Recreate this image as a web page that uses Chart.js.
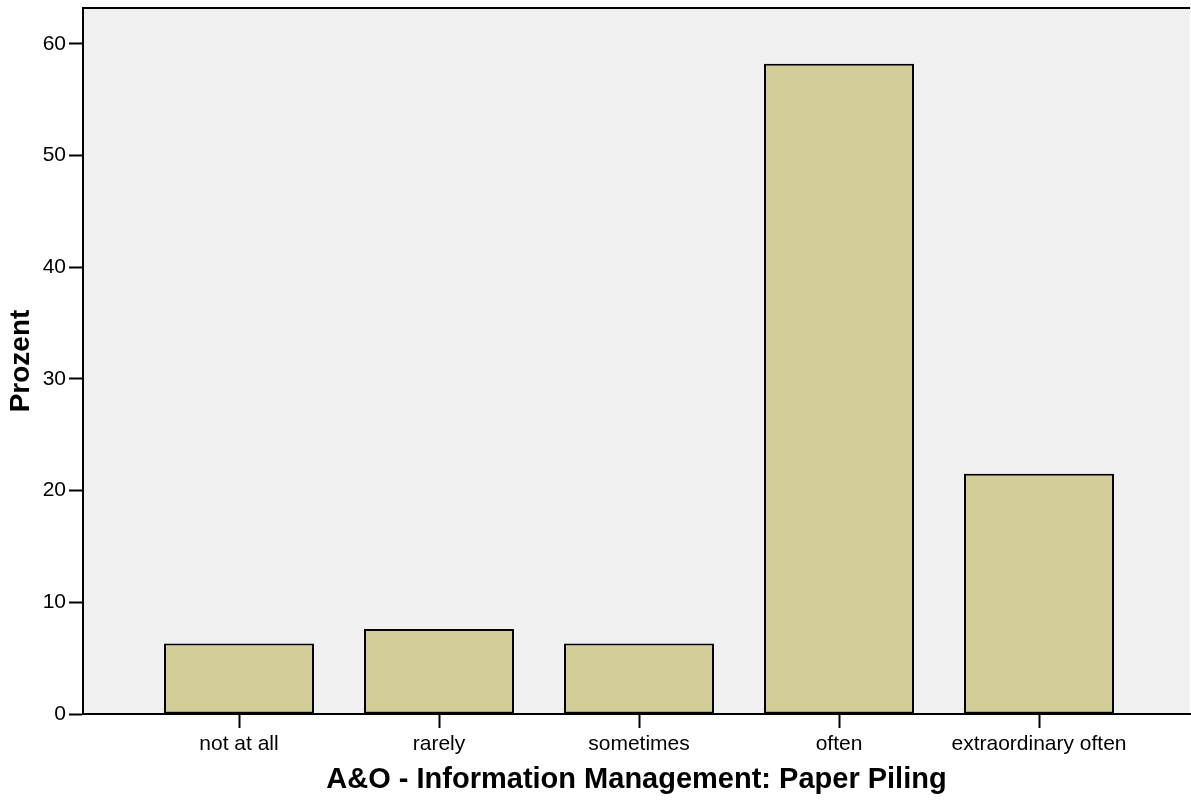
<!DOCTYPE html>
<html>
<head>
<meta charset="utf-8">
<script src="https://cdn.jsdelivr.net/npm/chart.js@4/dist/chart.umd.min.js"></script>
<style>
  html, body { margin: 0; padding: 0; background: #fff; }
  #wrap { width: 1191px; height: 800px; position: relative; }
</style>
</head>
<body>
<div id="wrap"><canvas id="chart"></canvas></div>
<script>
// ----------------------------
// DATA
// ----------------------------
const categories = ['not at all', 'rarely', 'sometimes', 'often', 'extraordinary often'];
const percents = [6.3, 7.6, 6.3, 58.2, 21.5];
const yTicks = [0, 10, 20, 30, 40, 50, 60];
const yTitle = 'Prozent';
const xTitle = 'A&O - Information Management: Paper Piling';

const FONT = '"Liberation Sans", Arial, Helvetica, sans-serif';

// ----------------------------
// PLOT BACKGROUND + TOP FRAME
// ----------------------------
const plotFrame = {
  id: 'plotFrame',
  beforeDraw(chart) {
    const { ctx, chartArea: a } = chart;
    ctx.save();
    ctx.fillStyle = '#f0f0f0';
    ctx.fillRect(a.left, a.top, a.right - a.left, a.bottom - a.top);
    ctx.restore();
  },
  afterDraw(chart) {
    const { ctx, chartArea: a } = chart;
    ctx.save();
    ctx.strokeStyle = '#000';
    ctx.lineWidth = 2;
    ctx.beginPath();
    ctx.moveTo(a.left, a.top);
    ctx.lineTo(a.right, a.top);
    ctx.stroke();
    ctx.restore();
  }
};

// ----------------------------
// CHART
// ----------------------------
const ctx = document.getElementById('chart').getContext('2d');

new Chart(ctx, {
  type: 'bar',
  data: {
    datasets: [{
      data: percents.map((v, i) => ({ x: i, y: v })),
      backgroundColor: '#d3ce97',
      borderColor: '#000',
      borderWidth: 2,
      borderSkipped: false,
      categoryPercentage: 1,
      barPercentage: 0.75
    }]
  },
  options: {
    responsive: true,
    maintainAspectRatio: false,
    animation: false,
    layout: { padding: { top: 8, right: 1, left: 0, bottom: 0 } },
    plugins: {
      legend: { display: false },
      tooltip: { enabled: false }
    },
    scales: {
      x: {
        type: 'linear',
        offset: false,
        min: -0.78,
        max: 4.755,
        afterBuildTicks: (scale) => {
          scale.ticks = categories.map((c, i) => ({ value: i }));
        },
        afterFit: (scale) => {
          scale.height = 86;
          scale.paddingLeft = 0;
          scale.paddingRight = 0;
        },
        ticks: {
          autoSkip: false,
          maxRotation: 0,
          color: '#000',
          padding: 4,
          font: { family: FONT, size: 21 },
          callback: (v) => categories[v]
        },
        grid: {
          offset: false,
          drawOnChartArea: false,
          tickLength: 14,
          tickColor: '#000',
          tickWidth: 2
        },
        border: { color: '#000', width: 2 },
        title: {
          display: true,
          text: xTitle,
          color: '#000',
          padding: { top: 0, bottom: 3 },
          font: { family: FONT, size: 29, weight: 'bold' }
        }
      },
      y: {
        min: 0,
        max: 63.2,
        afterBuildTicks: (scale) => {
          scale.ticks = yTicks.map(v => ({ value: v }));
        },
        afterFit: (scale) => {
          scale.width = 83;
          scale.paddingTop = 0;
          scale.paddingBottom = 0;
        },
        ticks: {
          color: '#000',
          padding: 3,
          font: { family: FONT, size: 21 }
        },
        grid: {
          drawOnChartArea: false,
          tickLength: 14,
          tickColor: '#000',
          tickWidth: 2
        },
        border: { color: '#000', width: 2 },
        title: {
          display: true,
          text: yTitle,
          color: '#000',
          padding: { top: 4, bottom: 0 },
          font: { family: FONT, size: 28, weight: 'bold' }
        }
      }
    }
  },
  plugins: [plotFrame]
});
</script>
</body>
</html>
